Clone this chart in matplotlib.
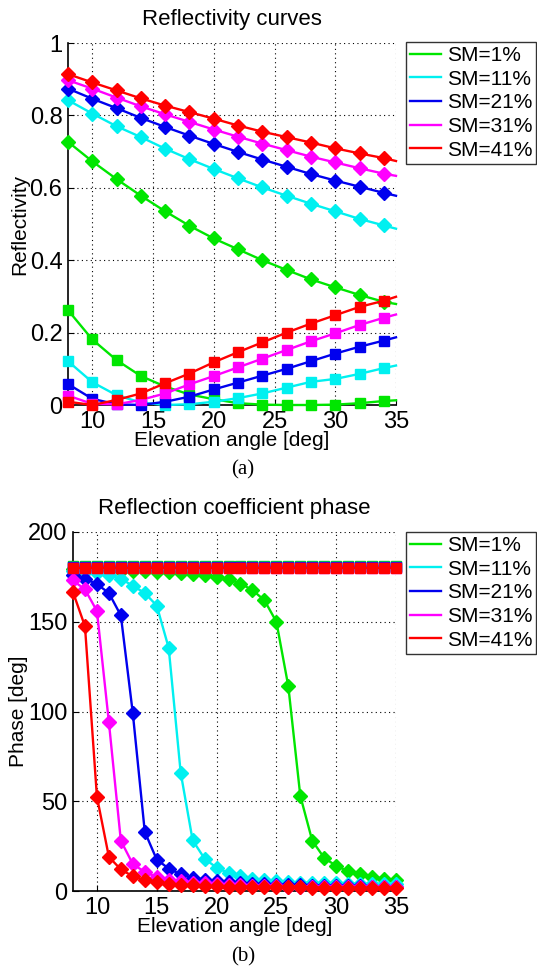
#!/usr/bin/env python3
"""Reflectivity and reflection-phase curves vs elevation angle for several soil moistures."""

import matplotlib

matplotlib.use("Agg")
import matplotlib.pyplot as plt
from matplotlib.lines import Line2D

plt.rcParams["font.family"] = ["Liberation Sans", "DejaVu Sans"]

labels = ["SM=1%", "SM=11%", "SM=21%", "SM=31%", "SM=41%"]
colors = ["#00e600", "#00f0f0", "#0000ee", "#ff00ff", "#ff0000"]

# reflectivity, samples at 8..34 step 2, plus 35 (no marker)
refl_angle = [8, 10, 12, 14, 16, 18, 20, 22, 24, 26, 28, 30, 32, 34, 35]
refl_diamond = [
    [0.727, 0.673, 0.624, 0.578, 0.535, 0.495, 0.460, 0.430, 0.400, 0.373, 0.347, 0.325, 0.304, 0.285, 0.279],
    [0.842, 0.805, 0.770, 0.740, 0.708, 0.679, 0.652, 0.626, 0.601, 0.578, 0.556, 0.535, 0.514, 0.496, 0.487],
    [0.874, 0.846, 0.820, 0.793, 0.768, 0.744, 0.721, 0.699, 0.678, 0.658, 0.638, 0.620, 0.603, 0.586, 0.578],
    [0.897, 0.874, 0.849, 0.825, 0.803, 0.782, 0.761, 0.741, 0.722, 0.704, 0.686, 0.670, 0.654, 0.639, 0.633],
    [0.914, 0.891, 0.869, 0.847, 0.827, 0.809, 0.791, 0.772, 0.755, 0.740, 0.725, 0.709, 0.695, 0.682, 0.674],
]
refl_square = [
    [0.262, 0.181, 0.124, 0.080, 0.051, 0.029, 0.016, 0.005, 0.001, 0.000, 0.000, 0.001, 0.005, 0.011, 0.013],
    [0.121, 0.063, 0.027, 0.007, 0.000, 0.002, 0.009, 0.019, 0.032, 0.048, 0.064, 0.072, 0.086, 0.102, 0.109],
    [0.058, 0.017, 0.002, 0.000, 0.009, 0.023, 0.043, 0.062, 0.081, 0.100, 0.121, 0.142, 0.161, 0.178, 0.187],
    [0.026, 0.003, 0.002, 0.014, 0.032, 0.057, 0.080, 0.104, 0.128, 0.152, 0.176, 0.198, 0.221, 0.241, 0.250],
    [0.009, 0.000, 0.014, 0.032, 0.060, 0.087, 0.118, 0.146, 0.173, 0.200, 0.225, 0.248, 0.271, 0.288, 0.299],
]

# phase, samples at every degree 8..35
phase_angle = list(range(8, 36))
phase_diamond = [
    [179.2, 179.0, 178.8, 178.7, 178.5, 178.3, 178.0, 177.8, 177.5, 177.0, 176.5, 175.8, 174.9, 173.6,
     171.3, 167.6, 162.0, 150.0, 114.0, 53.0, 28.0, 18.4, 14.0, 11.0, 9.3, 7.8, 6.9, 6.3],
    [178.0, 177.5, 177.0, 176.0, 174.0, 170.0, 166.0, 159.0, 135.4, 66.0, 28.3, 18.0, 13.0, 10.0,
     8.2, 6.9, 6.0, 5.4, 5.0, 4.7, 4.5, 4.3, 4.2, 4.1, 4.0, 3.9, 3.8, 3.7],
    [176.0, 174.0, 171.0, 166.0, 153.5, 99.0, 33.0, 17.5, 12.5, 9.3, 7.4, 6.3, 5.4, 4.9,
     4.5, 4.1, 3.8, 3.5, 3.3, 3.1, 3.0, 2.9, 2.8, 2.7, 2.6, 2.5, 2.5, 2.4],
    [173.0, 168.0, 156.0, 94.0, 28.0, 15.0, 10.6, 7.8, 6.3, 5.4, 4.7, 4.2, 3.7, 3.4,
     3.1, 2.9, 2.7, 2.6, 2.5, 2.4, 2.3, 2.2, 2.2, 2.1, 2.1, 2.0, 2.0, 2.0],
    [166.5, 147.5, 52.5, 19.0, 12.0, 8.2, 6.0, 4.8, 4.1, 3.5, 3.2, 2.9, 2.6, 2.5,
     2.4, 2.3, 2.2, 2.1, 2.0, 2.0, 1.9, 1.9, 1.9, 1.8, 1.8, 1.8, 1.7, 1.7],
]
phase_square_level = [180.8, 180.6, 180.4, 180.2, 180.0]

W, H = 537, 968
fig = plt.figure(figsize=(W / 100, H / 100), dpi=100)


def px_axes(left, top, right, bottom):
    return fig.add_axes([left / W, 1 - bottom / H, (right - left) / W, (bottom - top) / H])


def style_axes(ax):
    for side in ("top", "right"):
        ax.spines[side].set_visible(False)
    for side in ("left", "bottom"):
        ax.spines[side].set_linewidth(1.2)
        ax.spines[side].set_zorder(1)
    ax.grid(True, color="black", linestyle=(0, (1, 3)), linewidth=0.8)
    ax.set_axisbelow(True)
    ax.tick_params(direction="in", labelsize=17, length=4, pad=4)


ax1 = px_axes(68, 43, 396, 405)
for i in range(5):
    ax1.plot(refl_angle, refl_diamond[i], color=colors[i], lw=1.7, marker="D", ms=7.5,
             markevery=list(range(14)), clip_on=False, zorder=3)
    ax1.plot(refl_angle, refl_square[i], color=colors[i], lw=1.7, marker="s", ms=6.5,
             markevery=list(range(14)), clip_on=False, zorder=3)
ax1.set_xlim(8, 35)
ax1.set_ylim(0, 1)
ax1.set_xticks([10, 15, 20, 25, 30, 35])
ax1.set_yticks([0, 0.2, 0.4, 0.6, 0.8, 1])
ax1.set_yticklabels(["0", "0.2", "0.4", "0.6", "0.8", "1"])
style_axes(ax1)
ax1.set_title("Reflectivity curves", fontsize=16, pad=13)
ax1.set_xlabel("Elevation angle [deg]", fontsize=15, labelpad=-1)
ax1.set_ylabel("Reflectivity", fontsize=15, labelpad=0)

ax2 = px_axes(73, 532, 396, 891)
for i in range(5):
    ax2.plot(phase_angle, phase_diamond[i], color=colors[i], lw=1.7, marker="D", ms=7.5,
             clip_on=False, zorder=3)
for i in range(5):
    ax2.plot(phase_angle, [phase_square_level[i]] * len(phase_angle), color=colors[i], lw=1.7,
             marker="s", ms=6.5, clip_on=False, zorder=3)
ax2.set_xlim(8, 35)
ax2.set_ylim(0, 200)
ax2.set_xticks([10, 15, 20, 25, 30, 35])
ax2.set_yticks([0, 50, 100, 150, 200])
style_axes(ax2)
ax2.set_title("Reflection coefficient phase", fontsize=16, pad=13)
ax2.set_xlabel("Elevation angle [deg]", fontsize=15, labelpad=-1)
ax2.set_ylabel("Phase [deg]", fontsize=15, labelpad=0)

handles = [Line2D([], [], color=c, lw=1.7) for c in colors]
for top in (42, 532):
    leg = fig.legend(handles, labels, loc="upper left", bbox_to_anchor=(406 / W, 1 - top / H),
                     bbox_transform=fig.transFigure, fontsize=15, frameon=True, fancybox=False,
                     handlelength=1.5, handletextpad=0.25, labelspacing=0.22, borderpad=0.2,
                     borderaxespad=0)
    leg.get_frame().set_edgecolor("black")
    leg.get_frame().set_linewidth(1.0)

fig.text(243 / W, 1 - 470 / H, "(a)", ha="center", va="center", fontsize=15,
         family=["Liberation Serif", "DejaVu Serif"])
fig.text(243 / W, 1 - 957 / H, "(b)", ha="center", va="center", fontsize=15,
         family=["Liberation Serif", "DejaVu Serif"])

fig.savefig("out.png", dpi=100)
